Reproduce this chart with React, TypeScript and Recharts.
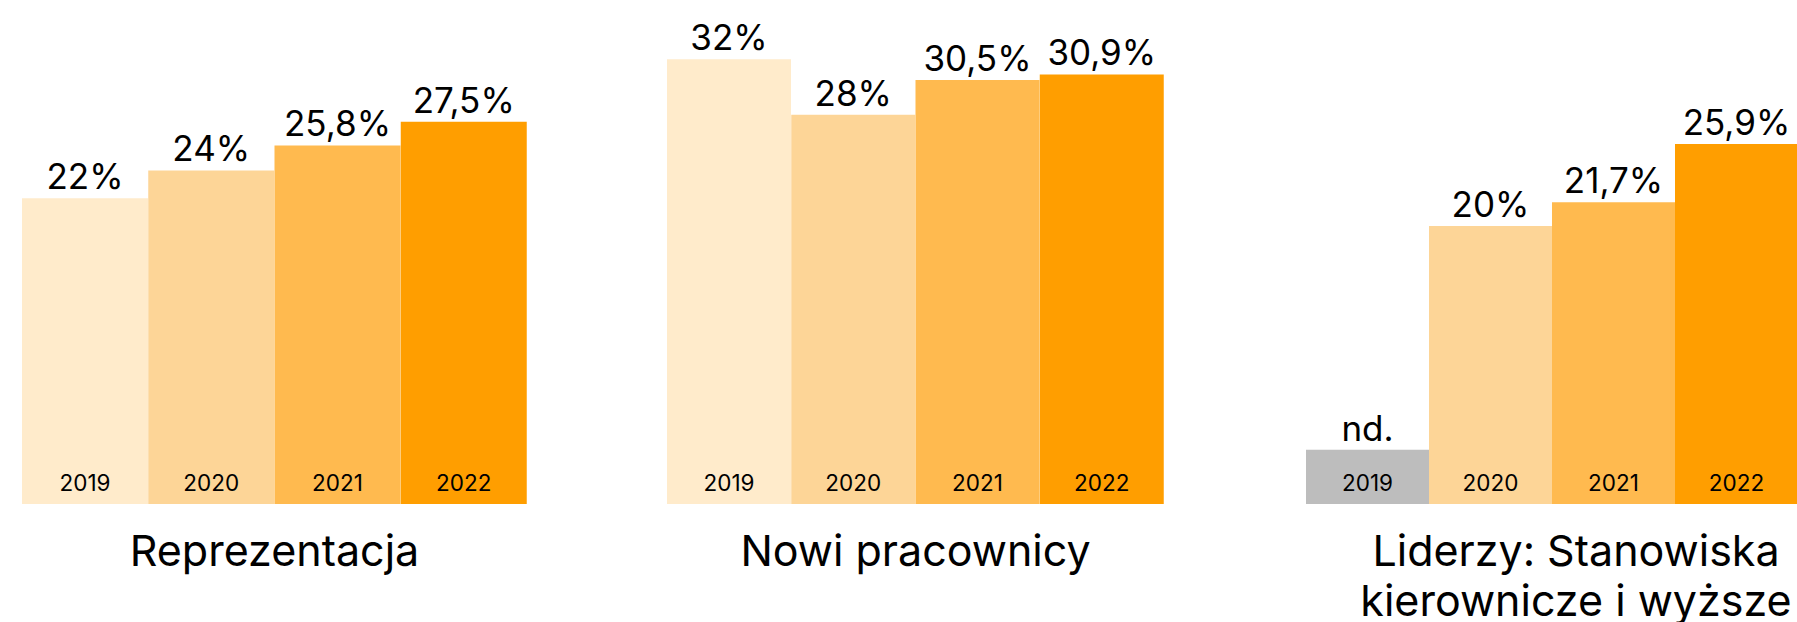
import { Bar, BarChart, Cell, LabelList, XAxis, YAxis } from 'recharts';

const years = ['2019', '2020', '2021', '2022'];
const representation = [22, 24, 25.8, 27.5];
const newHires = [32, 28, 30.5, 30.9];
// 2019 has no data for leaders ("nd."), drawn as a small grey placeholder bar
const leaders: (number | null)[] = [null, 20, 21.7, 25.9];
const ndPlaceholder = 3.9;

const yearColors = ['#FFEBCB', '#FDD597', '#FFBA4F', '#FF9E00'];
const ndColor = '#BDBDBD';
const font = 'Inter, "Noto Sans", sans-serif';

const fmt = (v: number) => `${String(v).replace('.', ',')}%`;

type PanelProps = { left: number; width: number; values: (number | null)[] };

const Panel = ({ left, width, values }: PanelProps) => {
  const data = years.map((year, i) => {
    const v = values[i];
    return {
      year,
      value: v == null ? ndPlaceholder : v,
      label: v == null ? 'nd.' : fmt(v),
      fill: v == null ? ndColor : yearColors[i],
    };
  });

  return (
    <div style={{ position: 'absolute', left, top: 0 }}>
      <BarChart
        width={width}
        height={504}
        data={data}
        margin={{ top: 17.5, right: 0, bottom: 0, left: 0 }}
        barCategoryGap={0}
        barGap={0}
      >
        <XAxis dataKey="year" hide />
        <YAxis hide domain={[0, 35]} />
        <Bar dataKey="value" isAnimationActive={false}>
          {data.map((d) => (
            <Cell key={d.year} fill={d.fill} />
          ))}
          <LabelList
            dataKey="label"
            position="top"
            offset={9}
            fill="#000"
            fontSize={35}
            fontFamily={font}
          />
          <LabelList
            dataKey="year"
            position="insideBottom"
            offset={13}
            fill="#000"
            fontSize={22.5}
            fontFamily={font}
          />
        </Bar>
      </BarChart>
    </div>
  );
};

export default function App() {
  return (
    <div
      style={{
        position: 'absolute',
        left: 0,
        top: 0,
        width: 1797,
        height: 622,
        overflow: 'hidden',
        background: '#fff',
      }}
    >
      <Panel left={22} width={505} values={representation} />
      <Panel left={667} width={497} values={newHires} />
      <Panel left={1306} width={492} values={leaders} />
      <svg
        width={1797}
        height={622}
        style={{ position: 'absolute', left: 0, top: 0, pointerEvents: 'none' }}
      >
        <g fontFamily={font} fontSize={43} fill="#000" textAnchor="middle">
          <text x={274.5} y={566}>Reprezentacja</text>
          <text x={915.5} y={566}>Nowi pracownicy</text>
          <text x={1576} y={566}>Liderzy: Stanowiska</text>
          <text x={1576} y={616}>kierownicze i wyższe</text>
        </g>
      </svg>
    </div>
  );
}
